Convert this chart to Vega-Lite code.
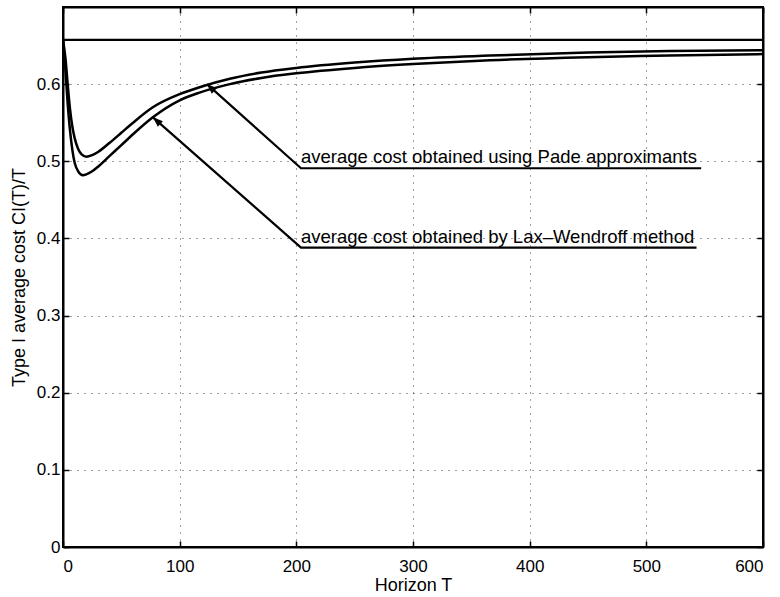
{
  "$schema": "https://vega.github.io/schema/vega-lite/v6.json",
  "width": 700,
  "height": 540,
  "autosize": "none",
  "padding": {"left": 63, "top": 7, "right": 17, "bottom": 50},
  "background": "white",
  "config": {
    "font": "Liberation Sans",
    "view": {"stroke": "black", "strokeWidth": 2},
    "axis": {
      "domainColor": "black",
      "domainWidth": 2,
      "tickColor": "black",
      "tickWidth": 1.5,
      "labelColor": "black",
      "labelFont": "Liberation Sans",
      "labelFontSize": 17,
      "titleFont": "Liberation Sans",
      "titleFontSize": 18,
      "titleFontWeight": "normal",
      "titleColor": "black",
      "gridColor": "black",
      "gridDash": [1, 6],
      "gridWidth": 1,
      "gridOpacity": 0.75
    }
  },
  "datasets": {
    "curves": [
      {"T": 0, "v": 0.657, "method": "Pade"},
      {"T": 2, "v": 0.635, "method": "Pade"},
      {"T": 4, "v": 0.6, "method": "Pade"},
      {"T": 6, "v": 0.568, "method": "Pade"},
      {"T": 8, "v": 0.545, "method": "Pade"},
      {"T": 10, "v": 0.53, "method": "Pade"},
      {"T": 13, "v": 0.516, "method": "Pade"},
      {"T": 16, "v": 0.509, "method": "Pade"},
      {"T": 20, "v": 0.506, "method": "Pade"},
      {"T": 25, "v": 0.508, "method": "Pade"},
      {"T": 30, "v": 0.512, "method": "Pade"},
      {"T": 40, "v": 0.524, "method": "Pade"},
      {"T": 50, "v": 0.537, "method": "Pade"},
      {"T": 60, "v": 0.55, "method": "Pade"},
      {"T": 77, "v": 0.57, "method": "Pade"},
      {"T": 100, "v": 0.587, "method": "Pade"},
      {"T": 117, "v": 0.596, "method": "Pade"},
      {"T": 143, "v": 0.607, "method": "Pade"},
      {"T": 170, "v": 0.615, "method": "Pade"},
      {"T": 200, "v": 0.621, "method": "Pade"},
      {"T": 250, "v": 0.628, "method": "Pade"},
      {"T": 300, "v": 0.633, "method": "Pade"},
      {"T": 366, "v": 0.637, "method": "Pade"},
      {"T": 450, "v": 0.641, "method": "Pade"},
      {"T": 520, "v": 0.643, "method": "Pade"},
      {"T": 600, "v": 0.644, "method": "Pade"},
      {"T": 0, "v": 0.657, "method": "Lax"},
      {"T": 2, "v": 0.62, "method": "Lax"},
      {"T": 4, "v": 0.575, "method": "Lax"},
      {"T": 6, "v": 0.54, "method": "Lax"},
      {"T": 8, "v": 0.515, "method": "Lax"},
      {"T": 10, "v": 0.498, "method": "Lax"},
      {"T": 13, "v": 0.487, "method": "Lax"},
      {"T": 17, "v": 0.482, "method": "Lax"},
      {"T": 20, "v": 0.483, "method": "Lax"},
      {"T": 25, "v": 0.487, "method": "Lax"},
      {"T": 30, "v": 0.493, "method": "Lax"},
      {"T": 40, "v": 0.507, "method": "Lax"},
      {"T": 50, "v": 0.521, "method": "Lax"},
      {"T": 60, "v": 0.535, "method": "Lax"},
      {"T": 77, "v": 0.557, "method": "Lax"},
      {"T": 100, "v": 0.579, "method": "Lax"},
      {"T": 117, "v": 0.589, "method": "Lax"},
      {"T": 143, "v": 0.6, "method": "Lax"},
      {"T": 170, "v": 0.608, "method": "Lax"},
      {"T": 200, "v": 0.614, "method": "Lax"},
      {"T": 250, "v": 0.621, "method": "Lax"},
      {"T": 300, "v": 0.626, "method": "Lax"},
      {"T": 366, "v": 0.631, "method": "Lax"},
      {"T": 450, "v": 0.635, "method": "Lax"},
      {"T": 520, "v": 0.637, "method": "Lax"},
      {"T": 600, "v": 0.639, "method": "Lax"}
    ],
    "hline": [
      {"T": 0, "v": 0.6575},
      {"T": 600, "v": 0.6575}
    ],
    "ann": [
      {"T": 123.4, "v": 0.6, "which": "Pade", "ord": 1},
      {"T": 204, "v": 0.491, "which": "Pade", "ord": 2},
      {"T": 547, "v": 0.491, "which": "Pade", "ord": 3},
      {"T": 77.1, "v": 0.557, "which": "Lax", "ord": 1},
      {"T": 204, "v": 0.388, "which": "Lax", "ord": 2},
      {"T": 543, "v": 0.388, "which": "Lax", "ord": 3}
    ],
    "tips": [
      {"T": 123.4, "v": 0.6},
      {"T": 77.1, "v": 0.557}
    ],
    "labels": [
      {"T": 204, "v": 0.491, "text": "average cost obtained using Pade approximants"},
      {"T": 204, "v": 0.388, "text": "average cost obtained by Lax\u2013Wendroff method"}
    ]
  },
  "layer": [
    {
      "data": {"name": "curves"},
      "mark": {"type": "line", "color": "black", "strokeWidth": 2.5, "clip": true, "interpolate": "monotone"},
      "encoding": {
        "x": {
          "field": "T", "type": "quantitative",
          "scale": {"domain": [0, 600], "nice": false, "zero": false},
          "axis": {
            "title": "Horizon T",
            "values": [0, 100, 200, 300, 400, 500, 600],
            "tickSize": -6,
            "labelPadding": 17,
            "titlePadding": 2,
            "grid": true
          }
        },
        "y": {
          "field": "v", "type": "quantitative",
          "scale": {"domain": [0, 0.7], "nice": false, "zero": false},
          "axis": {
            "title": "Type I average cost CI(T)/T",
            "values": [0, 0.1, 0.2, 0.3, 0.4, 0.5, 0.6],
            "format": ".1~f",
            "tickSize": -6,
            "labelPadding": 9,
            "titlePadding": 8,
            "grid": true
          }
        },
        "detail": {"field": "method"}
      }
    },
    {
      "data": {"name": "hline"},
      "mark": {"type": "line", "color": "black", "strokeWidth": 2.2},
      "encoding": {
        "x": {
          "field": "T", "type": "quantitative",
          "axis": {"orient": "top", "values": [0, 100, 200, 300, 400, 500, 600], "labels": false, "title": null, "tickSize": -6, "grid": false}
        },
        "y": {
          "field": "v", "type": "quantitative",
          "axis": {"orient": "right", "values": [0, 0.1, 0.2, 0.3, 0.4, 0.5, 0.6], "labels": false, "title": null, "tickSize": -6, "grid": false}
        }
      }
    },
    {
      "data": {"name": "ann"},
      "mark": {"type": "line", "color": "black", "strokeWidth": 2.2},
      "encoding": {
        "x": {"field": "T", "type": "quantitative", "axis": null},
        "y": {"field": "v", "type": "quantitative", "axis": null},
        "detail": {"field": "which"},
        "order": {"field": "ord"}
      }
    },
    {
      "data": {"name": "tips"},
      "mark": {"type": "point", "shape": "M0,0 L-0.38,1 L0.38,1 Z", "filled": true, "color": "black", "opacity": 1, "size": 400, "angle": 312},
      "encoding": {
        "x": {"field": "T", "type": "quantitative", "axis": null},
        "y": {"field": "v", "type": "quantitative", "axis": null}
      }
    },
    {
      "data": {"name": "labels"},
      "mark": {"type": "text", "align": "left", "baseline": "alphabetic", "dy": -5, "font": "Liberation Sans", "fontSize": 18.5, "color": "black"},
      "encoding": {
        "x": {"field": "T", "type": "quantitative", "axis": null},
        "y": {"field": "v", "type": "quantitative", "axis": null},
        "text": {"field": "text"}
      }
    }
  ],
  "resolve": {"axis": {"x": "independent", "y": "independent"}}
}
